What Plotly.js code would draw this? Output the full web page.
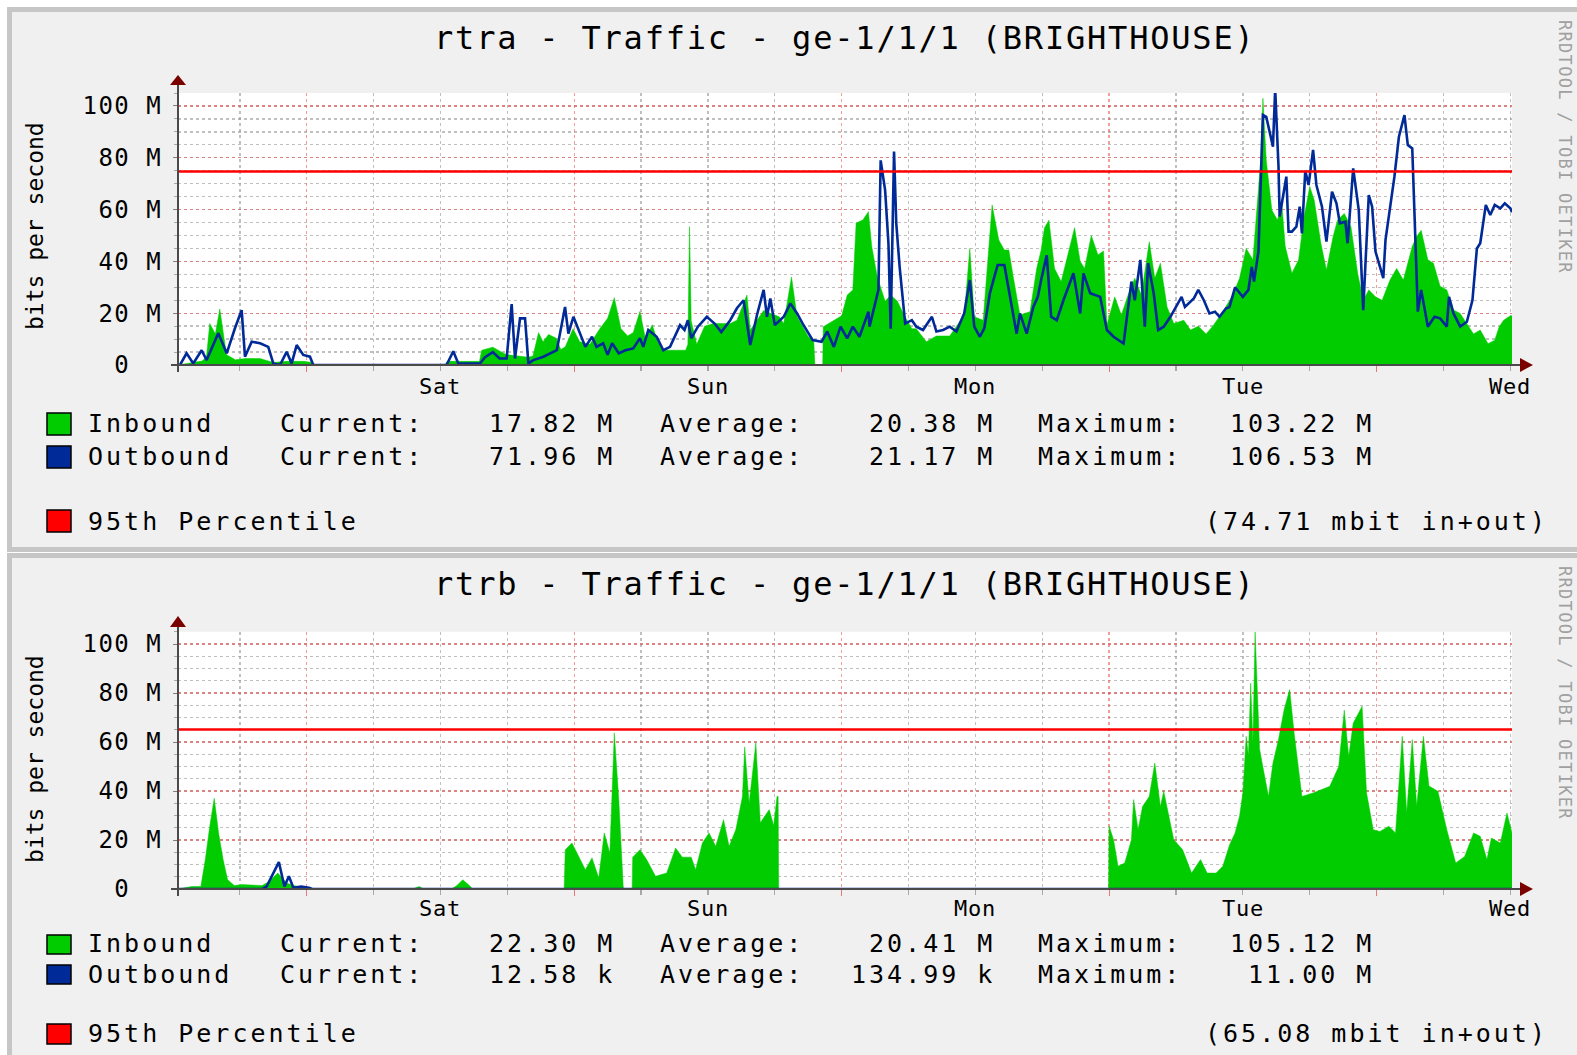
<!DOCTYPE html>
<html>
<head>
<meta charset="utf-8">
<script src="https://cdn.plot.ly/plotly-3.0.1.min.js"></script>
<style>
html,body{margin:0;padding:0;background:#ffffff;}
#chart{width:1577px;height:1055px;}
text[style*="font-size: 32px"]{letter-spacing:1.8px;}
text[style*="font-size: 25px"]{letter-spacing:3px;}
text[style*="font-size: 24px"]{letter-spacing:1.5px;}
text[style*="font-size: 22px"]{letter-spacing:0.8px;}
text[style*="font-size: 17px"]{letter-spacing:1.3px;}
</style>
</head>
<body>
<div id="chart"></div>
<script>
// ---------------- DATA ----------------
const titles = ['rtra - Traffic - ge-1/1/1 (BRIGHTHOUSE)', 'rtrb - Traffic - ge-1/1/1 (BRIGHTHOUSE)'];
const yAxisTitle = 'bits per second';
const credit = 'RRDTOOL / TOBI OETIKER';
const dayLabels = ['Sat', 'Sun', 'Mon', 'Tue', 'Wed'];
const dayHours = [0, 24, 48, 72, 96];          // hours relative to Sat 00:00
const yTickVals = [0, 20, 40, 60, 80, 100];     // Mbit/s
const yTickText = ['0\u00a0\u00a0', '20 M', '40 M', '60 M', '80 M', '100 M'];
const seriesNames = ['Inbound', 'Outbound'];
const statLabels = ['Current:', 'Average:', 'Maximum:'];
const rtraCurrent = ['17.82 M', '71.96 M'];
const rtraAverage = ['20.38 M', '21.17 M'];
const rtraMaximum = ['103.22 M', '106.53 M'];
const rtrbCurrent = ['22.30 M', '12.58 k'];
const rtrbAverage = ['20.41 M', '134.99 k'];
const rtrbMaximum = ['105.12 M', '11.00 M'];
const p95Label = '95th Percentile';
const rtraP95 = 74.71;
const rtrbP95 = 65.08;
const p95Text = ['(74.71 mbit in+out)', '(65.08 mbit in+out)'];

// rtra inbound (Mbit/s)
const rtraInHours = [-23.55,-23.0,-22.2,-21.4,-21.0,-20.7,-20.2,-19.8,-19.2,-18.4,-17.5,-16.2,-15.0,-13.8,-12.3,-11.5,-11.4,0.4,0.6,3.5,3.7,4.7,5.9,7.9,8.3,8.8,9.2,9.7,10.4,10.8,11.2,11.9,12.5,13.4,14.3,15.0,15.6,16.2,16.8,17.3,17.9,18.4,19.0,19.5,20.0,22.0,22.2,22.35,22.5,23.0,23.7,24.5,26.0,26.6,27.5,27.8,29.0,30.4,30.8,31.5,32.0,33.0,33.5,33.6,34.3,34.35,35.3,36.0,36.5,37.0,37.3,37.9,38.4,38.7,39.2,39.9,40.4,41.0,41.6,42.3,42.7,43.6,44.5,45.7,47.0,47.5,47.9,48.7,49.5,50.1,50.6,51.0,51.4,52.0,52.9,53.5,53.9,54.2,54.6,55.1,55.7,56.9,57.4,57.8,58.4,59.0,59.5,59.8,60.5,61.1,61.7,62.3,62.9,63.6,64.1,64.6,65.2,65.8,66.7,67.3,68.0,68.7,69.3,70.2,71.1,71.7,72.3,72.9,73.6,73.8,74.1,74.6,75.1,75.5,75.8,76.4,77.0,77.5,78.0,78.4,79.0,79.5,80.1,80.5,81.1,81.7,82.3,82.8,83.3,83.9,84.5,85.2,85.8,86.4,87.2,87.6,88.0,88.6,89.1,89.7,90.3,90.9,91.5,92.1,92.7,93.3,94.0,94.6,95.0,95.4,96.0,96.15];
const rtraInValues = [0,0.5,1.0,1.5,3,16,12,21.6,4,2,2.5,2.5,1,1.4,1.4,1.0,0,0,1.4,1.4,5.7,6.9,4,3,3.5,12.5,9,11.8,10.3,6,7,14,9,8,14,18,26,14,11.2,12.5,20.7,10,15.5,9,5.7,5.7,8,53.4,17,8,15,16,16,17.3,27,13.5,21,18.6,16,34,18.6,11,9,0,0,14.8,17.3,19,27,29,54.8,56,59.2,45.8,34,24.6,27,24.6,19.3,14,14,9,11.2,11.2,19.3,45,18.6,17.3,61.8,48.3,44.4,44.4,34,19.3,20.6,37.3,44.4,53,55.9,37.3,32.2,53,40,37.3,50,42.5,44,15.4,26.3,19.3,27,33.5,27,47.6,33.5,39.3,22.4,16,17.3,13.5,15,12,15,20.6,27,33.5,45,40.6,79,103,79,59.8,56,62,45.8,35.4,40.6,57.3,68.9,63.7,47,36.7,49.6,56,58.5,53.4,35.4,25,29,26.3,25,32.8,37.3,32.8,45.8,49.6,52,40.6,39.3,30.4,29,21.2,19.9,16,12,13.5,8.2,9.6,14.8,17.3,19,19];

// rtra outbound (Mbit/s)
const rtraOutHours = [-23.55,-23.37,-22.78,-22.18,-21.43,-20.98,-19.93,-19.18,-18.44,-17.84,-17.54,-16.94,-16.19,-15.45,-15.0,-14.4,-13.8,-13.35,-12.9,-12.31,-11.71,-11.41,0.55,1.15,1.6,3.55,4.0,4.7,5.3,5.94,6.39,6.69,7.14,7.59,7.89,8.34,9.24,10.44,11.18,11.48,11.93,12.5,13.0,13.6,14.0,14.6,15.0,15.4,16.0,16.6,17.3,17.9,18.2,18.65,19.4,20.0,20.6,21.5,21.9,22.2,22.5,23.1,23.9,24.6,25.2,26.0,26.6,27.2,27.8,28.4,29.0,29.3,29.6,30.0,30.8,31.4,32.0,32.5,33.4,34.2,34.7,35.3,35.9,36.5,37.0,37.6,38.4,38.5,39.3,39.5,39.9,40.2,40.4,40.7,40.9,41.2,41.7,42.3,42.7,43.3,44.1,44.5,45.1,45.7,46.3,47.0,47.5,47.9,48.4,48.8,49.3,49.7,50.0,50.6,51.2,51.7,52.0,52.6,53.2,53.6,53.9,54.4,54.8,55.3,55.9,56.8,57.4,57.7,58.3,59.2,59.8,60.4,61.3,62.0,62.3,62.8,63.2,63.5,64.0,64.4,64.9,65.5,66.5,66.8,67.6,68.0,68.5,69.0,69.5,69.9,70.5,70.8,71.3,72.0,72.5,72.8,73.0,73.4,73.8,74.1,74.7,74.9,75.2,75.3,75.9,76.1,76.4,76.8,77.1,77.3,77.6,77.9,78.3,78.6,79.1,79.5,80.0,80.4,80.7,81.2,81.4,81.9,82.4,82.8,83.3,83.6,83.9,84.6,84.8,85.6,86.0,86.5,86.8,87.2,87.5,87.7,88.0,88.6,89.2,89.7,90.3,90.5,90.9,91.5,92.1,92.6,93.0,93.3,93.8,94.2,94.6,95.1,95.5,96.0,96.15];
const rtraOutValues = [0,0,4.5,0.6,5.7,1.9,12.3,4.5,14.2,21.2,3.2,9,8.4,7,0.6,0,5.1,0.6,7.7,3.9,3.2,0,0,5.3,0.6,0.6,3,5,2.5,2.5,23.5,2.5,18,18,0.6,1.9,3.2,5.7,22.4,12.1,18.6,12.1,7,10.9,7,8.4,3.9,8.4,4.5,5.7,6.4,10.3,7,13.5,10.9,5.7,7,15.4,13.5,17.3,10.3,14.8,18.6,16,12.7,17.3,21.9,25,7.7,19.3,29,18.6,25.7,15.4,18.6,23.8,19.9,16,9.6,9,12.9,7,14.8,10.3,14.8,10.9,20.6,14.8,29,79,67.5,46.8,14,82.4,54.7,38,16,17.3,14.8,13.5,18.6,12.9,13.5,14.8,12.9,20,32.8,14.8,10.9,14.2,27.7,34,38.6,38.6,25,12.1,19.9,12.1,22.4,26.3,32.8,42.4,18.6,17.3,25,35.4,19.9,35.4,27.7,26.3,13.5,10.9,8.3,32.2,25,40.6,14.8,39.3,27.7,13.5,14.8,18.6,26.3,22.4,25.7,29,25,19.9,20.6,18.6,21.9,22.4,30,26.3,29,37.9,32.2,43.8,96.5,95.8,84.3,106.5,76.5,57.3,72.7,51.5,51.5,53.4,61.1,50.8,75,69.5,83,69.5,61.1,47.6,66.9,62.4,54.7,55.3,47,75.9,59.8,21.2,65.6,61.1,43.8,33.5,48.3,72.7,88,96.5,84.9,83.6,45.8,20.6,29,14.8,18.6,18,14.8,26.3,19.9,14.8,16.7,25,45,47,61.8,57.9,61.8,60.5,62.4,60.5,59];

// rtrb inbound (Mbit/s)
const rtrbInHours = [-23.6,-22.3,-21.5,-21.1,-20.7,-20.3,-19.9,-19.5,-19.1,-18.5,-17.8,-16.0,-15.4,-14.6,-13.8,-13.2,-12.0,-11.5,-2.5,-1.9,-1.5,1.0,1.5,2.0,2.5,2.9,11.1,11.2,11.8,12.4,13.0,13.6,14.2,14.7,15.2,15.6,16.0,16.4,16.45,17.2,17.25,17.9,18.5,19.3,20.3,21.1,21.7,22.5,22.9,23.5,24.1,24.7,25.4,25.9,26.5,27.1,27.3,27.7,28.3,28.7,29.5,29.9,30.2,30.3,30.35,59.95,60.0,60.4,60.8,61.4,62.0,62.2,62.6,63.0,63.6,64.1,64.6,64.9,65.4,65.8,66.6,67.4,68.2,68.8,69.6,70.2,70.8,71.3,71.7,72.0,72.3,72.5,72.7,72.9,73.1,73.5,73.9,74.3,74.7,75.2,75.7,76.2,76.6,77.3,78.3,79.8,80.6,81.1,81.5,81.9,82.7,83.1,83.7,84.3,85.1,85.7,86.3,86.7,87.2,87.6,88.2,88.7,89.5,90.3,91.1,91.9,92.7,93.3,93.9,94.3,95.1,95.7,96.15];
const rtrbInValues = [0,1,1,12,25.6,37,22.6,12,3.8,1.4,1.8,1.4,3,6.5,2.4,1.4,0.5,0,0,1,0,0,1.5,3.8,1.8,0,0,16,18.8,13,7.9,12.7,4.5,22.9,14.7,63.7,36.5,1,0,0,13,16,12,5.2,6.5,16.7,13,13,7.9,18.8,22.9,17.4,28.3,17.4,24.2,37.8,58,35,59.6,27,32.4,25.9,37.8,37.8,0,0,25.6,20.1,9.3,10.6,20.1,36.5,24.2,33.7,37.8,51.4,33.7,39.9,28.6,20.1,16,6.5,12,6.5,6.5,9.3,18,22.9,29.7,39.2,62.3,54.4,84,59.6,105,57.1,47.3,37.8,51.4,61,73.2,81.4,63.7,37.8,39.2,41.9,50,73,54.1,67.7,74.6,39.2,24.2,23.5,25.6,22.9,62.3,31,61,33.7,62.3,42,39.9,24.2,10.6,13.3,22.9,21.5,12,20.8,18.8,31,22.9];

// rtrb outbound (Mbit/s)
const rtrbOutHours = [-23.6,-16.0,-15.6,-14.5,-14.0,-13.6,-13.2,-12.5,-11.8,-11.5,96.15];
const rtrbOutValues = [0,0,1,11,1,5.2,0.5,1,0.5,0,0];

// ---------------- STYLE / LAYOUT ----------------
const W = 1577, H = 1055;
const FONT = 'DejaVu Sans Mono, monospace';
const GREEN = '#00cc00', BLUE = '#002a97', RED = '#ff0000';
const px = x => x / W;
const py = y => 1 - y / H;

const panels = [
  {box: [9.5, 549.5], zero: 365, top: 93, titleY: 38, ylabY: 226, dayY: 386, arrowTip: 75, arrowBase: 85,
   rows: [424, 456.7, 521.7], sq: [[413, 435], [446, 468], [510, 532]], creditY: 147,
   cur: rtraCurrent, avg: rtraAverage, max: rtraMaximum},
  {box: [555.5, 1075], zero: 889, top: 631.75, titleY: 584, ylabY: 759, dayY: 908, arrowTip: 616, arrowBase: 627,
   rows: [943.3, 974, 1033.3], sq: [[935, 954], [965, 984], [1024, 1044]], creditY: 693,
   cur: rtrbCurrent, avg: rtrbAverage, max: rtrbMaximum}
];
const PL = 178, PR = 1512;

const traces = [];
function addPanel(i, inH, inV, outH, outV, p95) {
  const xa = i === 0 ? 'x' : 'x2', ya = i === 0 ? 'y' : 'y2';
  traces.push({type: 'scatter', mode: 'lines', x: inH, y: inV, xaxis: xa, yaxis: ya,
    fill: 'tozeroy', fillcolor: GREEN, line: {color: GREEN, width: 0.5}, hoverinfo: 'skip'});
  traces.push({type: 'scatter', mode: 'lines', x: outH, y: outV, xaxis: xa, yaxis: ya,
    line: {color: BLUE, width: 2.6}, hoverinfo: 'skip'});
  traces.push({type: 'scatter', mode: 'lines', x: [inH[0], inH[inH.length - 1]], y: [p95, p95],
    xaxis: xa, yaxis: ya, line: {color: RED, width: 2.6}, hoverinfo: 'skip'});
}
addPanel(0, rtraInHours, rtraInValues, rtraOutHours, rtraOutValues, rtraP95);
addPanel(1, rtrbInHours, rtrbInValues, rtrbOutHours, rtrbOutValues, rtrbP95);

function xAxisDef(anchor) {
  return {
    domain: [px(PL), px(PR)], range: [rtraInHours[0], rtraInHours[rtraInHours.length - 1]],
    anchor: anchor, tickmode: 'linear', tick0: -12, dtick: 24, showticklabels: false,
    ticks: 'outside', ticklen: 6, tickcolor: 'rgba(230,90,90,0.8)', tickwidth: 1.2,
    showgrid: true, gridcolor: 'rgba(235,90,90,0.6)', griddash: 'dot', gridwidth: 1.3,
    zeroline: false, showline: false, fixedrange: true,
    minor: {tickmode: 'linear', tick0: 0, dtick: 6, showgrid: true, gridcolor: 'rgba(150,150,150,0.6)',
      griddash: 'dot', gridwidth: 1.3, ticks: 'outside', ticklen: 5, tickcolor: 'rgba(150,150,150,0.8)'}
  };
}
function yAxisDef(anchor, p) {
  return {
    domain: [py(p.zero), py(p.top)], range: [0, 105], anchor: anchor,
    tickmode: 'array', tickvals: yTickVals, ticktext: yTickText,
    tickfont: {family: FONT, size: 24, color: '#000000'},
    ticks: 'outside', ticklen: 4, tickcolor: 'rgba(120,120,120,0.9)', ticklabelstandoff: 6,
    showgrid: true, gridcolor: 'rgba(235,90,90,0.6)', griddash: 'dot', gridwidth: 1.3,
    zeroline: false, showline: false, fixedrange: true,
    minor: {tickmode: 'linear', tick0: 0, dtick: 5, showgrid: true, gridcolor: 'rgba(150,150,150,0.6)',
      griddash: 'dot', gridwidth: 1.3, ticks: 'outside', ticklen: 3, tickcolor: 'rgba(150,150,150,0.8)'}
  };
}

const shapes = [];
const annotations = [];
const tri = pts => 'M' + pts.map(q => px(q[0]) + ',' + py(q[1])).join('L') + 'Z';

panels.forEach((p, i) => {
  shapes.push({type: 'rect', xref: 'paper', yref: 'paper', layer: 'below',
    x0: px(9.5), x1: px(1600), y0: py(p.box[0]), y1: py(p.box[1]),
    fillcolor: '#f0f0f0', line: {color: '#c6c6c6', width: 5}});
  shapes.push({type: 'rect', xref: 'paper', yref: 'paper', layer: 'below',
    x0: px(PL), x1: px(PR), y0: py(p.zero), y1: py(p.top),
    fillcolor: '#ffffff', line: {width: 0}});
  shapes.push({type: 'line', xref: 'paper', yref: 'paper', layer: 'above',
    x0: px(PL), x1: px(PL), y0: py(p.zero + 7), y1: py(p.arrowBase),
    line: {color: '#4a4a4a', width: 2}});
  shapes.push({type: 'line', xref: 'paper', yref: 'paper', layer: 'above',
    x0: px(PL - 7), x1: px(1521), y0: py(p.zero), y1: py(p.zero),
    line: {color: '#4a4a4a', width: 2}});
  shapes.push({type: 'path', xref: 'paper', yref: 'paper', layer: 'above',
    path: tri([[PL, p.arrowTip], [PL - 8, p.arrowBase], [PL + 8, p.arrowBase]]),
    fillcolor: '#7a0000', line: {width: 0}});
  shapes.push({type: 'path', xref: 'paper', yref: 'paper', layer: 'above',
    path: tri([[1533, p.zero], [1520, p.zero - 7], [1520, p.zero + 7]]),
    fillcolor: '#7a0000', line: {width: 0}});
  [GREEN, BLUE, RED].forEach((c, k) => {
    shapes.push({type: 'rect', xref: 'paper', yref: 'paper', layer: 'above',
      x0: px(47), x1: px(71), y0: py(p.sq[k][1]), y1: py(p.sq[k][0]),
      fillcolor: c, line: {color: '#000000', width: 1.5}});
  });

  const txt = (text, x, y, size, xanchor, extra) => annotations.push(Object.assign({
    text: text, xref: 'paper', yref: 'paper', x: px(x), y: py(y), xanchor: xanchor, yanchor: 'middle',
    showarrow: false, font: {family: FONT, size: size, color: '#000000'}
  }, extra || {}));

  txt(titles[i], 845, p.titleY, 32, 'center');
  txt(yAxisTitle, 35, p.ylabY, 23, 'center', {textangle: -90});
  txt(credit, 1565, p.creditY, 17, 'center', {textangle: 90, font: {family: FONT, size: 17, color: '#a0a0a0'}});
  dayLabels.forEach((d, k) => annotations.push({
    text: d, xref: i === 0 ? 'x' : 'x2', yref: 'paper', x: dayHours[k], y: py(p.dayY),
    xanchor: 'center', yanchor: 'middle', showarrow: false,
    font: {family: FONT, size: 22, color: '#000000'}
  }));
  for (let k = 0; k < 2; k++) {
    const y = p.rows[k];
    txt(seriesNames[k], 86, y, 25, 'left');
    txt(statLabels[0], 278, y, 25, 'left');
    txt(p.cur[k], 617, y, 25, 'right');
    txt(statLabels[1], 658, y, 25, 'left');
    txt(p.avg[k], 997, y, 25, 'right');
    txt(statLabels[2], 1036, y, 25, 'left');
    txt(p.max[k], 1376, y, 25, 'right');
  }
  txt(p95Label, 86, p.rows[2], 25, 'left');
  txt(p95Text[i], 1550, p.rows[2], 25, 'right');
});

const layout = {
  width: W, height: H, margin: {l: 0, r: 0, t: 0, b: 0, pad: 0},
  paper_bgcolor: '#ffffff', plot_bgcolor: 'rgba(0,0,0,0)', showlegend: false,
  xaxis: xAxisDef('y'), yaxis: yAxisDef('x', panels[0]),
  xaxis2: xAxisDef('y2'), yaxis2: yAxisDef('x2', panels[1]),
  shapes: shapes, annotations: annotations
};

Plotly.newPlot('chart', traces, layout, {displayModeBar: false, staticPlot: true});
</script>
</body>
</html>
